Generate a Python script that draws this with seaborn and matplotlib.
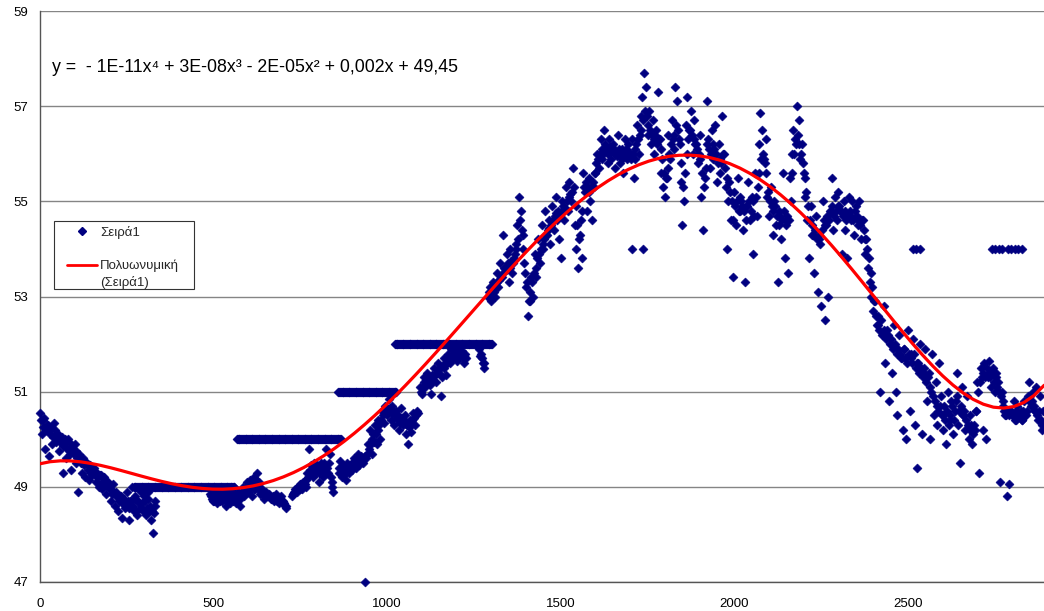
import numpy as np
import pandas as pd
import matplotlib
matplotlib.use("Agg")
import matplotlib.pyplot as plt
import matplotlib.patches as mpatches
import seaborn as sns
from matplotlib.lines import Line2D

nan = np.nan

# Readings every 5 days starting at day 0 (one row = 100 days)
step = 5
readings = [
    50.55, 50.1, 50.4, 49.8, 50.3, 49.65, 50.2, 49.9, 50.35, 49.95, 50.1, 49.75, 50.0, 49.3, 49.9, 49.6, 50.0, 49.7, 49.35, 49.8,
    49.9, 49.5, 48.9, 49.6, 49.3, 49.55, 49.2, 49.5, 49.15, 49.45, 49.25, 49.4, 49.1, 49.3, 49.0, 49.25, 48.95, 49.2, 48.85, 49.1,
    49.0, 48.7, 49.05, 48.6, 48.9, 48.5, 48.8, 48.35, 48.75, 48.55, 48.9, 48.3, 48.7, 49.0, 48.5, 48.8, 48.4, 48.65, 48.9, 48.55,
    48.8, 48.4, 48.9, 48.5, 48.3, 48.03, 48.6, nan, nan, nan, nan, nan, nan, nan, nan, nan, nan, nan, nan, nan,
    nan, nan, nan, nan, nan, nan, nan, nan, nan, nan, nan, nan, nan, nan, nan, nan, nan, nan, 48.85, 48.75,
    48.7, 48.9, 48.65, 48.8, 48.95, 48.7, 48.85, 48.6, 48.9, 48.75, 49.0, 48.7, 48.85, 48.65, 48.9, 48.6, 48.8, 49.0, 48.85, 49.1,
    48.9, 49.15, 48.8, 49.2, 48.95, 49.3, 49.1, 48.85, 48.95, 48.75, 48.9, 48.8, 48.85, 48.75, 48.8, 48.7, 48.85, 48.75, 48.7, 48.8,
    48.7, 48.6, 48.55, nan, nan, 48.8, 48.85, 48.95, 48.9, 49.0, 49.05, 48.95, 49.1, 49.0, 49.3, 49.8, 49.45, 49.2, 49.5, 49.3,
    49.4, 49.1, 49.5, 49.2, 49.45, 49.8, 49.3, 49.7, 49.0, 48.9, nan, nan, 49.3, 49.55, 49.2, 49.4, 49.15, 49.5, 49.3, 49.45,
    49.35, 49.6, 49.4, 49.7, 49.45, 49.65, 49.5, 47.0, 49.6, 49.9, 50.2, 49.7, 50.1, 50.3, 49.9, 50.4, 50.0, 50.6, 50.35, 50.7,
    50.5, 50.85, 50.4, 50.7, 50.3, 50.6, 50.5, 50.2, 50.65, 50.3, 50.5, 50.1, 49.9, 50.4, 50.15, 50.55, 50.3, 50.6, nan, 51.1,
    50.95, 51.3, 51.1, 51.4, 51.2, 50.95, 51.35, 51.5, 51.2, 51.6, 51.4, 50.9, 51.55, 51.7, 51.35, 51.8, 51.6, 51.9, 51.7, 51.85,
    51.65, 51.9, 51.75, 51.85, 51.6, 51.8, nan, nan, nan, nan, nan, nan, nan, 51.9, 51.8, 51.6, 51.5, nan, 53.0, 53.2,
    52.9, 53.3, 53.0, 53.5, 53.2, 53.7, 53.4, 54.3, 53.6, 53.9, 53.3, 54.0, 53.5, 53.8, 54.1, 54.5, 55.1, 54.8, 54.3, 53.7,
    53.2, 52.6, 52.9, 53.4, 53.0, 53.9, 53.4, 54.2, 53.7, 54.5, 54.0, 54.8, 54.3, 54.6, 54.1, 54.9, 54.4, 55.1, 54.6, 54.2,
    53.8, 55.0, 54.6, 55.3, 54.8, 55.4, 55.0, 55.7, 54.5, 54.0, 53.6, 54.3, 53.8, 55.6, 55.2, 54.8, 55.5, 55.0, 54.6, 55.3,
    55.6, 56.0, 55.7, 56.3, 55.9, 56.5, 56.1, 55.8, 56.3, 55.9, 56.2, 55.7, 56.0, 56.4, 55.8, 56.1, 55.6, 56.3, 55.9, 56.2,
    56.0, 56.3, 55.5, 56.1, 56.6, 56.0, 56.8, 57.2, 57.7, 57.4, 56.4, 56.9, 56.2, 56.7, 56.0, 56.5, 57.3, 56.3, 55.6, 55.3,
    55.1, 55.5, 56.4, 55.9, 56.7, 56.1, 57.4, 57.1, 56.3, 55.4, 54.5, 55.0, 56.6, 57.2, 56.5, 56.9, 56.0, 56.7, 56.2, 55.8,
    56.4, 55.1, 54.4, 55.5, 57.1, 56.3, 55.7, 56.5, 55.9, 56.6, 55.4, 56.2, 55.6, 56.8, 56.0, 55.3, 54.0, 55.4, 54.6, 53.4,
    55.2, 54.5, 55.5, 54.8, 55.0, 54.4, 53.3, 54.9, 55.4, 54.6, 55.1, 53.9, 55.6, 54.7, 56.2, 56.85, 56.5, 55.9, 56.3, 55.1,
    54.7, 55.3, 54.3, 55.0, 54.5, 53.3, 54.8, 54.2, 55.6, 53.8, 54.6, 53.5, 55.5, 56.0, 56.5, 56.3, 57.0, 56.7, 55.9, 56.2,
    55.6, 55.1, 54.6, 53.8, 54.9, 54.3, 53.5, 54.7, 53.1, 54.2, 52.8, 55.0, 52.5, 54.5, 53.0, 54.8, 55.5, 54.4, 55.1, 54.6,
    55.2, 54.8, 53.9, 55.0, 54.4, 53.8, 55.1, 54.6, 55.0, 54.3, 54.9, 54.5, 55.0, 54.2, 54.6, 53.9, 54.2, 53.6, 53.3, 53.0,
    52.7, 52.9, 52.4, 52.6, 51.0, 52.2, 52.8, 51.6, 52.3, 50.8, 52.0, 51.4, 52.4, 51.0, 50.5, 52.2, 51.7, 50.2, 51.9, 50.0,
    52.3, 50.6, 51.8, 52.1, 50.3, 49.4, 51.6, 52.0, 50.1, 51.5, 51.9, 50.8, 51.4, 50.0, 51.8, 50.5, 51.2, 50.3, 51.6, 50.9,
    50.2, 50.7, 49.9, 51.0, 50.4, 50.8, 50.1, 50.6, 51.4, 50.3, 49.5, 51.1, 50.5, 50.2, 50.9, 50.0, 50.5, 49.9, 50.3, 50.6,
    51.2, 49.3, 51.5, 50.2, 51.6, 50.0, 51.3, 51.65, 51.1, 51.5, 51.0, 51.4, 51.2, 49.1, 51.0, 50.7, 50.5, 48.8, 49.05, 50.6,
    50.5, 50.8, 50.4, 50.7, 50.5, 50.6, 50.4, 50.8, 50.5, 50.9, 51.2, 50.7, 51.0, 50.6, 51.1, 50.4, 50.9, 50.2, 50.6,
]

# Second reading of each period, taken 2.5 days after the first
readings_mid = [
    50.4, 50.25, 50.45, 50.2, 50.3, 50.1, 50.25, 50.05, 50.2, 50.0, 50.1, 49.95, 50.05, 49.85, 50.0, 49.8, 49.95, 49.75, 49.85, 49.7,
    49.75, 49.6, 49.7, 49.5, 49.6, 49.45, 49.5, 49.35, 49.45, 49.3, 49.4, 49.25, 49.3, 49.2, 49.25, 49.1, 49.2, 49.05, 49.1, 49.0,
    48.95, 48.85, 48.9, 48.8, 48.85, 48.7, 48.8, 48.65, 48.75, 48.6, 48.7, 48.55, 48.7, 48.6, 48.75, 48.5, 48.7, 48.55, 48.65, 48.5,
    48.7, 48.55, 48.75, 48.6, 48.5, 48.45, 48.7, nan, nan, nan, nan, nan, nan, nan, nan, nan, nan, nan, nan, nan,
    nan, nan, nan, nan, nan, nan, nan, nan, nan, nan, nan, nan, nan, nan, nan, nan, nan, nan, 48.8, 48.7,
    48.8, 48.75, 48.85, 48.7, 48.8, 48.75, 48.9, 48.7, 48.8, 48.65, 48.85, 48.75, 48.8, 48.7, 48.85, 48.75, 48.9, 48.8, 48.95, 49.0,
    49.05, 49.0, 49.1, 48.95, 49.15, 49.05, 48.95, 48.9, 48.85, 48.8, 48.85, 48.8, 48.8, 48.75, 48.75, 48.8, 48.7, 48.65, 48.75, 48.7,
    48.65, 48.6, nan, nan, nan, 48.85, 48.9, 48.95, 49.0, 48.95, 49.05, 49.1, 49.05, 49.15, 49.2, 49.35, 49.3, 49.4, 49.35, 49.45,
    49.3, 49.4, 49.35, 49.5, 49.3, 49.4, 49.5, 49.2, 49.1, nan, nan, nan, 49.4, 49.3, 49.45, 49.35, 49.3, 49.4, 49.45, 49.5,
    49.5, 49.45, 49.55, 49.5, 49.6, 49.55, 49.6, 49.65, 49.7, 49.8, 49.9, 50.0, 49.95, 50.1, 50.2, 50.3, 50.4, 50.5, 50.55, 50.6,
    50.6, 50.65, 50.55, 50.6, 50.5, 50.45, 50.4, 50.35, 50.45, 50.4, 50.35, 50.3, 50.25, 50.3, 50.4, 50.45, 50.5, 50.55, nan, 51.0,
    51.1, 51.2, 51.25, 51.3, 51.15, 51.3, 51.25, 51.35, 51.4, 51.45, 51.5, 51.3, 51.5, 51.55, 51.6, 51.65, 51.7, 51.75, 51.8, 51.75,
    51.8, 51.75, 51.8, 51.7, 51.75, 51.7, nan, nan, nan, nan, nan, nan, nan, 51.75, 51.7, 51.6, nan, nan, 53.1, 53.05,
    53.0, 53.1, 53.2, 53.3, 53.35, 53.4, 53.5, 53.6, 53.55, 53.7, 53.6, 53.75, 53.7, 53.9, 54.0, 54.2, 54.6, 54.4, 54.0, 53.5,
    53.3, 52.9, 53.1, 53.3, 53.5, 53.6, 53.8, 53.9, 54.0, 54.1, 54.2, 54.3, 54.4, 54.45, 54.5, 54.6, 54.7, 54.75, 54.8, 54.7,
    54.8, 54.9, 54.85, 55.0, 55.1, 55.15, 55.2, 55.3, 54.9, 54.5, 54.2, 54.6, 54.8, 55.3, 55.4, 55.3, 55.2, 55.3, 55.4, 55.6,
    55.8, 55.9, 56.0, 56.1, 56.0, 56.2, 56.1, 56.0, 56.15, 56.05, 56.1, 56.0, 55.95, 56.1, 56.0, 55.9, 56.0, 56.1, 56.05, 56.0,
    55.9, 56.0, 55.9, 56.2, 56.3, 56.4, 56.5, 56.7, 56.9, 56.8, 56.6, 56.5, 56.4, 56.3, 56.4, 56.2, 56.3, 56.1, 55.9, 55.6,
    55.5, 55.7, 56.0, 56.2, 56.3, 56.4, 56.6, 56.5, 56.2, 55.8, 55.3, 55.6, 56.0, 56.3, 56.5, 56.4, 56.3, 56.2, 56.1, 56.0,
    55.9, 55.6, 55.3, 55.7, 56.2, 56.1, 56.0, 56.2, 56.1, 56.0, 55.8, 55.9, 55.8, 56.0, 55.7, 55.5, 55.0, 55.2, 55.0, 54.6,
    54.9, 55.0, 54.8, 55.1, 54.9, 54.8, 54.6, 54.9, 55.0, 54.8, 55.0, 54.7, 55.1, 55.3, 55.6, 55.9, 56.0, 55.8, 55.6, 55.2,
    55.0, 54.9, 54.8, 54.9, 54.7, 54.5, 54.7, 54.6, 54.8, 54.5, 54.7, 54.6, 55.0, 55.6, 56.0, 56.2, 56.4, 56.2, 56.0, 55.8,
    55.5, 55.2, 54.9, 54.6, 54.5, 54.3, 54.4, 54.2, 54.3, 54.1, 54.4, 54.6, 54.5, 54.7, 54.6, 54.8, 54.9, 54.7, 54.8, 54.9,
    54.9, 54.8, 54.7, 54.8, 54.6, 54.7, 54.8, 54.7, 54.6, 54.8, 54.7, 54.6, 54.5, 54.6, 54.4, 54.2, 54.0, 53.8, 53.5, 53.2,
    52.9, 52.6, 52.4, 52.3, 52.5, 52.2, 52.3, 52.1, 52.2, 52.0, 52.1, 51.9, 52.0, 51.8, 51.9, 51.8, 51.7, 51.9, 51.7, 51.6,
    51.8, 51.7, 51.6, 51.8, 51.5, 51.6, 51.4, 51.5, 51.3, 51.4, 51.2, 51.3, 51.1, 51.0, 50.9, 50.8, 50.7, 50.6, 50.7, 50.5,
    50.5, 50.4, 50.6, 50.3, 50.5, 50.7, 50.4, 50.8, 50.9, 50.6, 50.7, 50.5, 50.6, 50.4, 50.3, 50.2, 50.3, 50.1, 50.2, 50.6,
    51.0, 51.2, 51.3, 51.4, 51.3, 51.5, 51.4, 51.3, 51.4, 51.2, 51.3, 51.1, 51.0, 50.9, 50.8, 50.6, 50.5, 50.6, 50.5, 50.6,
    50.5, 50.4, 50.6, 50.5, 50.5, 50.4, 50.6, 50.5, 50.6, 50.8, 50.9, 50.8, 50.7, 50.6, 50.5, 50.6, 50.4, 50.3, 50.3,
]

# Stretches where the instrument reported a constant whole-number value
run_start = [270, 567, 859, 1022, 1705, 1737, 2514, 2742, 2788]
run_stop = [560, 869, 1028, 1302, 1705, 1737, 2543, 2774, 2837]
run_level = [49, 50, 51, 52, 54, 54, 54, 54, 54]
run_step = [2.5, 2.5, 2.5, 2.5, 1, 1, 10, 10, 10]

y_ticks = [47, 49, 51, 53, 55, 57, 59]
x_ticks = [0, 500, 1000, 1500, 2000, 2500]
series_name = "Σειρά1"
trend_name = "Πολυωνυμική"
trend_order = 5
equation = "y =  - 1E-11x\u2074 + 3E-08x\u00b3 - 2E-05x\u00b2 + 0,002x + 49,45"

days = np.arange(len(readings)) * step
frames = [
    pd.DataFrame({"day": days, "value": readings}),
    pd.DataFrame({"day": days + step / 2, "value": readings_mid}),
]
for a, b, lvl, st in zip(run_start, run_stop, run_level, run_step):
    d = np.arange(a, b + 0.1, st)
    frames.append(pd.DataFrame({"day": d, "value": np.full(len(d), float(lvl))}))
df = pd.concat(frames, ignore_index=True).dropna()

sns.set_theme(style="white")
fonts = ["Liberation Sans", "DejaVu Sans"]
plt.rcParams["font.family"] = fonts

W, H = 1044, 611
fig = plt.figure(figsize=(W / 100, H / 100), dpi=100)
ax = fig.add_axes([40 / W, 1 - 582 / H, 1 - 40 / W, (582 - 11) / H])

navy = "#000080"
sns.scatterplot(data=df, x="day", y="value", marker="D", s=21, color=navy,
                edgecolor=navy, linewidth=0.4, ax=ax, clip_on=False, zorder=3,
                legend=False)
sns.regplot(data=df, x="day", y="value", order=trend_order, ci=None, scatter=False,
            ax=ax, line_kws=dict(color="#ff0000", lw=2.3, zorder=4))

ax.set_xlim(0, 2892)
ax.set_ylim(47, 59)
ax.set_xticks(x_ticks)
ax.set_yticks(y_ticks)
ax.set_xlabel("")
ax.set_ylabel("")
ax.yaxis.grid(True, color="#858585", lw=1.0)
ax.xaxis.grid(False)
ax.set_axisbelow(True)
for side in ("top", "right"):
    ax.spines[side].set_visible(False)
for side in ("left", "bottom"):
    ax.spines[side].set_color("#555555")
    ax.spines[side].set_linewidth(1.0)
ax.tick_params(axis="both", direction="out", length=3.6, width=1.0, color="#555555",
               labelsize=9.5, labelcolor="black")
ax.tick_params(axis="y", pad=5)
ax.tick_params(axis="x", pad=8)

fig.text(52 / W, 1 - 68 / H, equation, fontsize=12.8, va="center", ha="left",
         family=fonts, color="black")

# legend: frame drawn as a plain rectangle, entries placed inside it
ax.add_patch(mpatches.Rectangle((54 / W, 1 - 289 / H), 140 / W, 68 / H,
                                transform=fig.transFigure, clip_on=False,
                                facecolor="white", edgecolor="#333333",
                                lw=0.8, zorder=5))
handles = [
    Line2D([], [], marker="D", color=navy, linestyle="none", markersize=4),
    Line2D([], [], linestyle="none"),
    Line2D([], [], color="#ff0000", lw=2),
    Line2D([], [], linestyle="none"),
]
labels = [series_name, " ", trend_name, "(" + series_name + ")"]
leg = ax.legend(handles, labels, loc="upper left",
                bbox_to_anchor=(67 / W, 1 - 226 / H), bbox_transform=fig.transFigure,
                frameon=False, fontsize=9.5, borderpad=0, labelspacing=0.32,
                handlelength=2.27, handletextpad=0.23, borderaxespad=0)
leg.set_zorder(6)

fig.savefig("out.png", dpi=100)
